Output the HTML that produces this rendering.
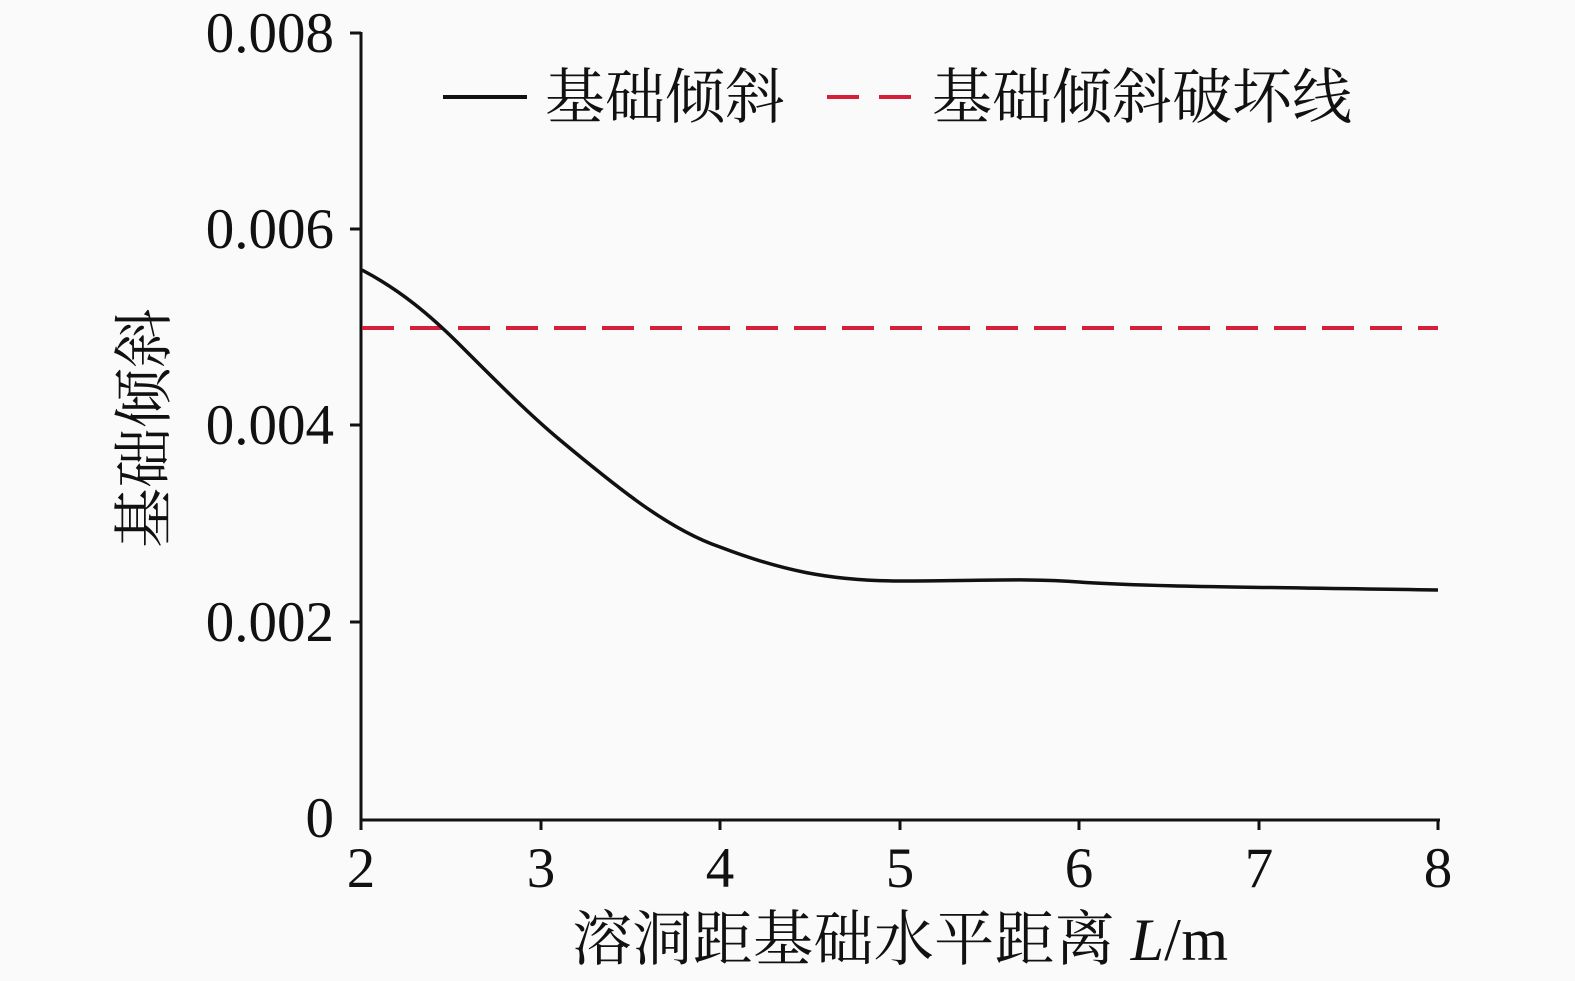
<!DOCTYPE html>
<html><head><meta charset="utf-8"><style>
body{margin:0;background:#fafafa;}
svg{display:block;}
text{font-family:"Liberation Serif","Noto Serif CJK SC",serif;fill:#111;}
</style></head><body>
<svg width="1575" height="981" viewBox="0 0 1575 981">
<rect width="1575" height="981" fill="#fafafa"/>
<g stroke="#111" stroke-width="3" fill="none">
<line x1="361" y1="32" x2="361" y2="822"/>
<line x1="360" y1="820" x2="1440" y2="820"/>
<line x1="350" y1="33" x2="361" y2="33"/>
<line x1="350" y1="229" x2="361" y2="229"/>
<line x1="350" y1="425" x2="361" y2="425"/>
<line x1="350" y1="622" x2="361" y2="622"/>
<line x1="541" y1="820" x2="541" y2="830"/>
<line x1="720" y1="820" x2="720" y2="830"/>
<line x1="900" y1="820" x2="900" y2="830"/>
<line x1="1079" y1="820" x2="1079" y2="830"/>
<line x1="1259" y1="820" x2="1259" y2="830"/>
<line x1="1438" y1="820" x2="1438" y2="830"/>
<line x1="361" y1="820" x2="361" y2="830"/>
</g>
<line x1="362" y1="328" x2="1438" y2="328" stroke="#d4203a" stroke-width="4" stroke-dasharray="32,16"/>
<path d="M362,270 C400,290 430,315 460,345 C500,385 530,415 560,440 C620,490 670,530 720,547 C780,570 830,581 900,581 C980,581 1030,578 1079,582 C1150,587 1259,587 1438,590" stroke="#111" stroke-width="3.5" fill="none"/>
<g font-size="57" text-anchor="end">
<text x="334" y="52">0.008</text>
<text x="334" y="248">0.006</text>
<text x="334" y="444">0.004</text>
<text x="334" y="641">0.002</text>
<text x="334" y="837">0</text>
</g>
<g font-size="57" text-anchor="middle">
<text x="361" y="887">2</text><text x="541" y="887">3</text><text x="720" y="887">4</text><text x="900" y="887">5</text><text x="1079" y="887">6</text><text x="1259" y="887">7</text><text x="1438" y="887">8</text>
</g>
<text x="900" y="960" font-size="60" text-anchor="middle" textLength="656">溶洞距基础水平距离 <tspan font-style="italic">L</tspan>/m</text>
<text transform="translate(165,428) rotate(-90)" font-size="60" text-anchor="middle">基础倾斜</text>
<line x1="443" y1="97" x2="527" y2="97" stroke="#111" stroke-width="4"/>
<text x="545" y="118" font-size="60">基础倾斜</text>
<line x1="827" y1="97" x2="911" y2="97" stroke="#d4203a" stroke-width="4" stroke-dasharray="32,20"/>
<text x="932" y="118" font-size="60">基础倾斜破坏线</text>
</svg>
</body></html>
